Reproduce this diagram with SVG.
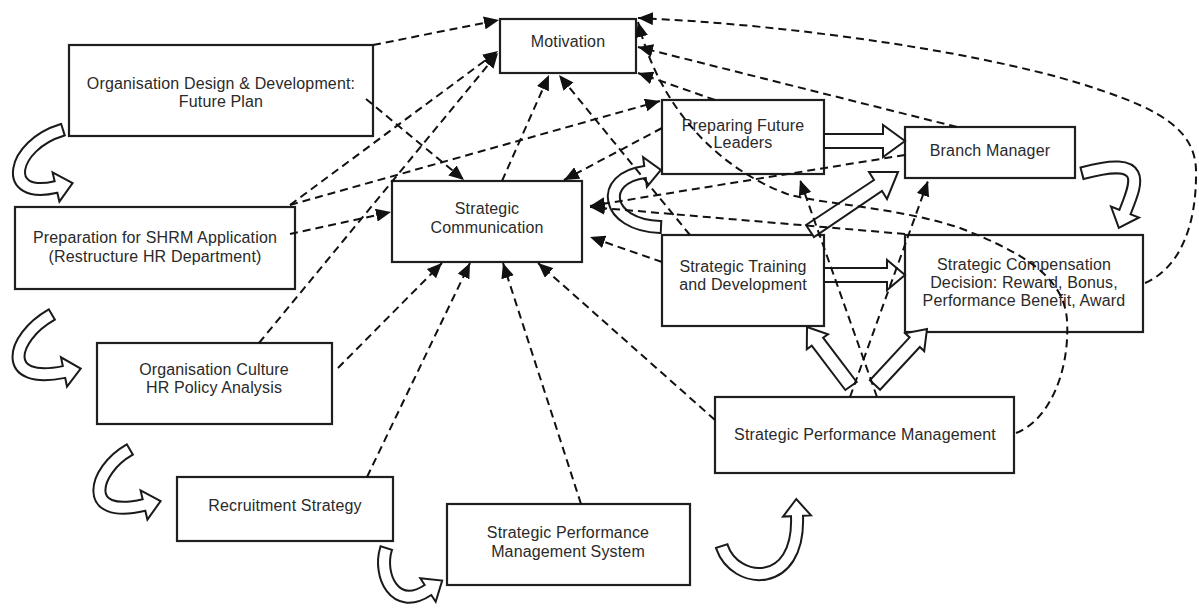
<svg xmlns="http://www.w3.org/2000/svg" width="1199" height="612" viewBox="0 0 1199 612">
<style>
.box{fill:#fff;stroke:#1f1f1f;stroke-width:2.2}
.lbl{font-family:"Liberation Sans",Arial,sans-serif;font-size:16px;fill:#2a2a2a;text-anchor:middle;letter-spacing:0.15px}
.dash{fill:none;stroke:#111;stroke-width:2;stroke-dasharray:8 5;marker-end:url(#ah)}
.bo{fill:none;stroke:#1a1a1a;stroke-width:14}
.bi{fill:none;stroke:#fff;stroke-width:10}
.hd{fill:#fff;stroke:#1a1a1a;stroke-width:2;stroke-linejoin:miter}
</style>
<defs>
<marker id="ah" markerUnits="userSpaceOnUse" viewBox="0 0 15 13" markerWidth="15" markerHeight="13" refX="15" refY="6.5" orient="auto">
<path d="M0,0 L15,6.5 L0,13 z" fill="#111"/>
</marker>
</defs>
<rect width="1199" height="612" fill="#fff"/>

<g id="node-org-design"><rect class="box" x="69" y="45" width="304" height="91"/><text class="lbl" x="221" y="89">Organisation Design &amp; Development:</text><text class="lbl" x="221" y="107">Future Plan</text></g>
<g id="node-motivation"><rect class="box" x="500" y="19" width="136" height="54"/><text class="lbl" x="568" y="47">Motivation</text></g>
<g id="node-preparation"><rect class="box" x="15" y="207" width="280" height="82"/><text class="lbl" x="155" y="243">Preparation for SHRM Application</text><text class="lbl" x="155" y="262">(Restructure HR Department)</text></g>
<g id="node-strategic-communication"><rect class="box" x="392" y="181" width="190" height="81"/><text class="lbl" x="487" y="214">Strategic</text><text class="lbl" x="487" y="233">Communication</text></g>
<g id="node-future-leaders"><rect class="box" x="662" y="100" width="162" height="74"/><text class="lbl" x="743" y="131">Preparing Future</text><text class="lbl" x="743" y="148">Leaders</text></g>
<g id="node-branch-manager"><rect class="box" x="905" y="127" width="170" height="51"/><text class="lbl" x="990" y="156">Branch Manager</text></g>
<g id="node-training"><rect class="box" x="662" y="235" width="162" height="91"/><text class="lbl" x="743" y="272">Strategic Training</text><text class="lbl" x="743" y="290">and Development</text></g>
<g id="node-compensation"><rect class="box" x="905" y="235" width="238" height="97"/><text class="lbl" x="1024" y="270">Strategic Compensation</text><text class="lbl" x="1024" y="288">Decision: Reward, Bonus,</text><text class="lbl" x="1024" y="306">Performance Benefit, Award</text></g>
<g id="node-culture"><rect class="box" x="97" y="343" width="235" height="81"/><text class="lbl" x="214" y="375">Organisation Culture</text><text class="lbl" x="214" y="393">HR Policy Analysis</text></g>
<g id="node-recruitment"><rect class="box" x="177" y="477" width="216" height="64"/><text class="lbl" x="285" y="511">Recruitment Strategy</text></g>
<g id="node-spms"><rect class="box" x="447" y="504" width="243" height="81"/><text class="lbl" x="568" y="538">Strategic Performance</text><text class="lbl" x="568" y="557">Management System</text></g>
<g id="node-spm"><rect class="box" x="715" y="397" width="299" height="76"/><text class="lbl" x="865" y="440">Strategic Performance Management</text></g>

<g id="connectors">
<g id="flow-arrows">
<!-- curved hollow arrows -->
<g><path class="bo" d="M63.9,129.4 L62,130 C12,145 0,200 56,187"/><polygon class="hd" points="59.4,201.6 72.6,183.2 52.6,172.4"/><path class="bi" d="M62,130 C12,145 0,200 56,187 l2.9,-0.7"/></g>
<g><path class="bo" d="M52.7,314 L51,315 C11,338 0,385 64,372"/><polygon class="hd" points="67,386.7 80.7,368.6 61,357.3"/><path class="bi" d="M51,315 C11,338 0,385 64,372 l2.9,-0.6"/></g>
<g><path class="bo" d="M130.7,449 L129,450 C94,470 80,520 144,505"/><polygon class="hd" points="147.4,519.6 160.6,501.1 140.6,490.4"/><path class="bi" d="M129,450 C94,470 80,520 144,505 l2.9,-0.7"/></g>
<g><path class="bo" d="M386.6,547.1 L386,549 C378,575 394.8,612 428,590"/><polygon class="hd" points="435.7,601.7 442.2,580.6 420.3,578.3"/><path class="bi" d="M386,549 C378,575 394.8,612 428,590 l2.5,-1.7"/></g>
<g><path class="bo" d="M721.4,545.1 L722,547 C735,585 800,590 797,516"/><polygon class="hd" points="811,515.4 796.3,499 783,516.6"/><path class="bi" d="M722,547 C735,585 800,590 797,516 l-0.1,-3"/></g>
<g><path class="bo" d="M662,227.1 L660,227 C605,225 598,178 645,172"/><polygon class="hd" points="646.9,186.9 660.9,170 643.1,157.1"/><path class="bi" d="M660,227 C605,225 598,178 645,172 l3,-0.4"/></g>
<g><path class="bo" d="M1081,173.5 L1083,173 C1150,155 1136,184 1125,212"/><polygon class="hd" points="1139,217.5 1118.8,227.8 1111,206.5"/><path class="bi" d="M1083,173 C1150,155 1136,184 1125,212 l-1.1,2.8"/></g>
<!-- straight hollow arrows -->
<polygon class="hd" points="824,134 883,134 883,125 905,141 883,157 883,148 824,148"/>
<polygon class="hd" points="824,268 887,268 887,260 905,275 887,290 887,282 824,282"/>
<polygon class="hd" points="806,225 874,180 869,172 898,172 887,199 882,191 814,237"/>
<polygon class="hd" points="856.7,382 823.1,337.7 828,334.2 807,327 806.8,349.2 811.7,345.7 845.3,390"/>
<polygon class="hd" points="880.1,389.8 919.8,347 924.2,351.1 927,329 905.2,333.3 909.6,337.4 869.9,380.2"/>
</g>
<g id="dashed-links">
<path class="dash" d="M373,45 L499,20"/>
<path class="dash" d="M366,99 L464,180"/>
<path class="dash" d="M290,205 L498,51"/>
<path class="dash" d="M259,343 L498,53"/>
<path class="dash" d="M290,205 L660,101"/>
<path class="dash" d="M290,234 L391,212"/>
<path class="dash" d="M338,368 L442,263"/>
<path class="dash" d="M367,477 L470,263"/>
<path class="dash" d="M581,504 L503,263"/>
<path class="dash" d="M715,420 L538,263"/>
<path class="dash" d="M502,181 L549,75"/>
<path class="dash" d="M690,235 L559,75"/>
<path class="dash" d="M957,127 L638,47"/>
<path class="dash" d="M715,100 L638,73"/>
<path class="dash" d="M1145,283 C1180,268 1197,225 1196,170 C1195,130 1160,110 1100,90 C1000,55 800,25 638,18"/>
<path class="dash" d="M1016,433 C1050,420 1070,370 1067,320 C1064,280 1030,255 960,228 C900,208 830,205 790,195 C720,170 660,110 638,22"/>
<path class="dash" d="M877,397 L800,180"/>
<path class="dash" d="M850,397 L928,181"/>
<path class="dash" d="M662,128 L564,180"/>
<path class="dash" d="M905,155 L590,206"/>
<path class="dash" d="M905,234 L590,207"/>
<path class="dash" d="M662,262 L590,237"/>
</g>
</g>
</svg>
